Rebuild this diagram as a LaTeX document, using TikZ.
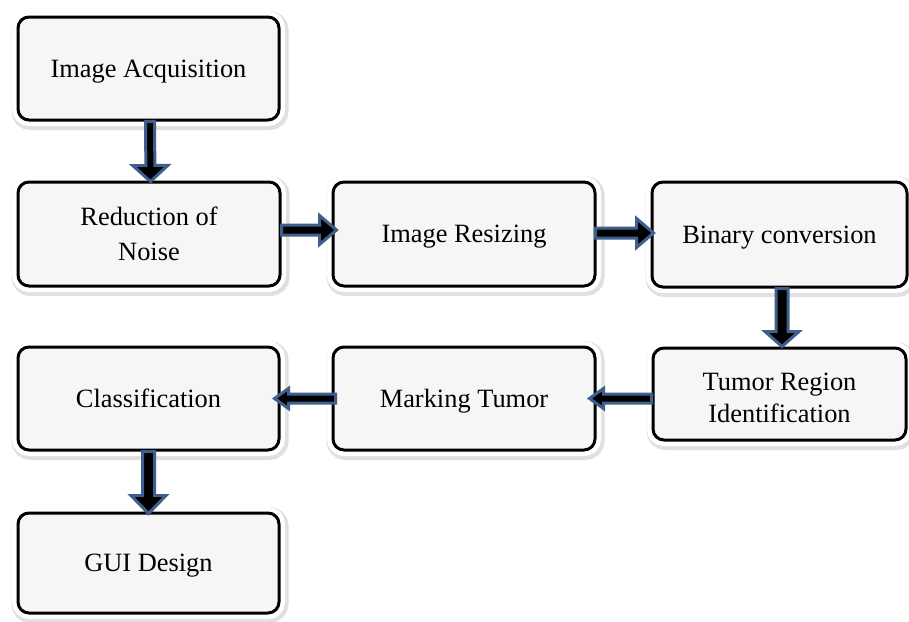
\documentclass[tikz,border=0pt]{standalone}
\usepackage{fontspec}
\setmainfont{Liberation Serif}
\usetikzlibrary{calc}
\definecolor{arrowblue}{RGB}{62,95,140}
\definecolor{boxfill}{RGB}{246,246,246}
\tikzset{
  procbox/.style={draw=black, line width=3pt, fill=boxfill, rounded corners=11pt,
    inner sep=0pt, align=center, font=\fontsize{26.4}{33}\selectfont, text depth=0pt,
    preaction={draw=black!12, line width=16pt, transform canvas={xshift=1.5pt,yshift=-2pt}},
    preaction={draw=white, line width=12pt}},
  arrowsty/.style={draw=arrowblue, fill=black, line width=3pt, line join=miter}
}
\newcommand\blockarrow[5]{%
  \draw[arrowsty] let \p1=(#1), \p2=(#2),
      \n1={veclen(\x2-\x1,\y2-\y1)}, \n2={atan2(\y2-\y1,\x2-\x1)} in
    [shift={(\p1)}, rotate=\n2]
    (0pt,#3pt) -- ({\n1-#5pt},#3pt) -- ({\n1-#5pt},#4pt) -- ({\n1},0pt)
    -- ({\n1-#5pt},-#4pt) -- ({\n1-#5pt},-#3pt) -- (0pt,-#3pt) -- cycle;}
\begin{document}
\begin{tikzpicture}[x=1pt,y=-1pt]
\useasboundingbox[fill=white] (0,0) rectangle (909,621);
\node[procbox, minimum width=261pt, minimum height=103pt] (acq) at (148.5,68.5) {Image Acquisition};
\node[procbox, minimum width=262pt, minimum height=104pt, font=\fontsize{26.4}{35}\selectfont] (red) at (149,234) {Reduction of\\Noise};
\node[procbox, minimum width=262pt, minimum height=104pt] (res) at (464,234) {Image Resizing};
\node[procbox, minimum width=255pt, minimum height=105pt] (bin) at (779.5,234.5) {Binary conversion};
\node[procbox, minimum width=253pt, minimum height=92pt,
  label={[align=center, font=\fontsize{26.4}{32}\selectfont, yshift=-4pt]center:{Tumor Region\\Identification}}] (tum) at (779.5,394) {};
\node[procbox, minimum width=262pt, minimum height=103pt] (mark) at (464,398.5) {Marking Tumor};
\node[procbox, minimum width=261pt, minimum height=103pt] (cls) at (148.5,398.5) {Classification};
\node[procbox, minimum width=261pt, minimum height=100pt] (gui) at (148.5,563) {GUI Design};
\blockarrow{$(acq.south)+(1.5,0)$}{$(red.north)+(1.5,1)$}{4.5}{17.5}{16}
\blockarrow{$(red.east)+(0,-4)$}{$(res.west)+(5,-4)$}{5}{14.5}{17}
\blockarrow{$(res.east)+(-1,-1)$}{$(bin.west |- res.east)+(3,-1)$}{5}{14.5}{17}
\blockarrow{$(bin.south)+(2.5,0)$}{$(tum.north)+(2.5,0)$}{6}{17}{15}
\blockarrow{$(tum.west |- mark.center)$}{$(mark.east)+(-7,0)$}{4.5}{10}{14}
\blockarrow{$(mark.west)+(4,0)$}{$(cls.east)+(-6,0)$}{4.5}{10}{14}
\blockarrow{$(cls.south)$}{$(gui.north)+(0,2)$}{6}{17.5}{18}
\end{tikzpicture}
\end{document}
